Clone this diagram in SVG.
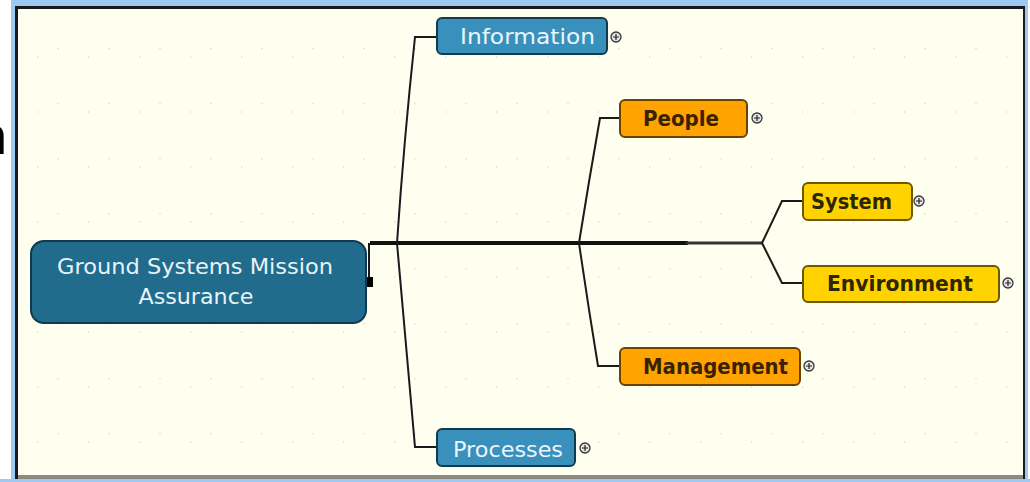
<svg xmlns="http://www.w3.org/2000/svg" width="1030" height="482" viewBox="0 0 1030 482">
<style>
.frame-bg{fill:#FFFFF0}
.conn{fill:none;stroke:#1a1a1a;stroke-width:2}
.blue rect{fill:#3A90BC;stroke:#123a4e;stroke-width:2}
.blue text{fill:#EAF6FB;font-family:"DejaVu Sans","Liberation Sans",sans-serif;font-size:22px}
.orange rect{fill:#FFA300;stroke:#6b4300;stroke-width:2}
.orange text{fill:#3a2200;font-family:"DejaVu Sans","Liberation Sans",sans-serif;font-size:21px;font-weight:bold}
.yellow rect{fill:#FFD300;stroke:#6b5800;stroke-width:2}
.yellow text{fill:#2e2600;font-family:"DejaVu Sans","Liberation Sans",sans-serif;font-size:21px;font-weight:bold}
.root rect{fill:#216C8D;stroke:#0d3a4f;stroke-width:2}
.root text{fill:#E8F3F6;font-family:"DejaVu Sans","Liberation Sans",sans-serif;font-size:22px;text-anchor:middle}
.plus circle{fill:#e6e6e6;stroke:#333;stroke-width:1.3}
.plus path{stroke:#222;stroke-width:1.2;fill:none}
</style>
<defs>
<pattern id="dots" patternUnits="userSpaceOnUse" x="37" y="48" width="51" height="55">
<circle cx="21" cy="0.5" r="1" fill="#e9e4c6"/>
<circle cx="0.5" cy="9" r="1" fill="#e9e4c6"/>
</pattern>
<g id="plusIcon" class="plus"><circle r="5"/><path d="M-3 0H3M0 -3V3"/></g>
</defs>
<rect width="1030" height="482" fill="#ffffff"/>
<rect x="11" y="0" width="1017" height="482" fill="#9ec9f2"/>
<rect x="15" y="6" width="1010" height="474" fill="#1a1a1a"/>
<rect x="18" y="9" width="1005" height="468" class="frame-bg"/>
<rect x="18" y="9" width="1005" height="468" fill="url(#dots)"/>
<rect x="18" y="475" width="1005" height="5" fill="#8c8a80"/>
<rect x="0" y="479" width="1030" height="3" fill="#9ec9f2"/>
<text x="-26" y="154" font-family="Liberation Sans,sans-serif" font-size="54" font-weight="bold" fill="#000">n</text>

<g id="connectors">
<path class="conn" d="M369 282V243"/>
<path d="M370 243H688" stroke="#111" stroke-width="4" fill="none"/>
<path d="M686 243H762" stroke="#333" stroke-width="3" fill="none"/>
<path class="conn" d="M397 243Q404 140 415 37H437"/>
<path class="conn" d="M397 243Q406 345 415 447H437"/>
<path class="conn" d="M579 243Q589 180 600 118H620"/>
<path class="conn" d="M579 243Q588 305 598 366H620"/>
<path class="conn" d="M762 243L782 201H803"/>
<path class="conn" d="M762 243L782 283H803"/>
<rect x="365" y="277" width="8" height="10" fill="#000"/>
</g>

<g id="root" class="root">
<rect x="31" y="241" width="335" height="82" rx="13"/>
<text x="195" y="274" textLength="276" lengthAdjust="spacingAndGlyphs">Ground Systems Mission</text>
<text x="196" y="304" textLength="115" lengthAdjust="spacingAndGlyphs">Assurance</text>
</g>

<g id="information" class="blue">
<rect x="437" y="18" width="170" height="36" rx="5"/>
<text x="460" y="44" textLength="135" lengthAdjust="spacingAndGlyphs">Information</text>
<use href="#plusIcon" x="616" y="37"/>
</g>

<g id="processes" class="blue">
<rect x="437" y="429" width="138" height="37" rx="5"/>
<text x="453" y="457" textLength="110" lengthAdjust="spacingAndGlyphs">Processes</text>
<use href="#plusIcon" x="585" y="448"/>
</g>

<g id="people" class="orange">
<rect x="620" y="100" width="127" height="37" rx="5"/>
<text x="643" y="126" textLength="76" lengthAdjust="spacingAndGlyphs">People</text>
<use href="#plusIcon" x="757" y="118"/>
</g>

<g id="management" class="orange">
<rect x="620" y="348" width="180" height="37" rx="5"/>
<text x="643" y="374" textLength="145" lengthAdjust="spacingAndGlyphs">Management</text>
<use href="#plusIcon" x="809" y="366"/>
</g>

<g id="system" class="yellow">
<rect x="803" y="183" width="109" height="37" rx="5"/>
<text x="811" y="209" textLength="81" lengthAdjust="spacingAndGlyphs">System</text>
<use href="#plusIcon" x="919" y="201"/>
</g>

<g id="environment" class="yellow">
<rect x="803" y="266" width="196" height="36" rx="5"/>
<text x="827" y="291" textLength="146" lengthAdjust="spacingAndGlyphs">Environment</text>
<use href="#plusIcon" x="1008" y="283"/>
</g>
</svg>
